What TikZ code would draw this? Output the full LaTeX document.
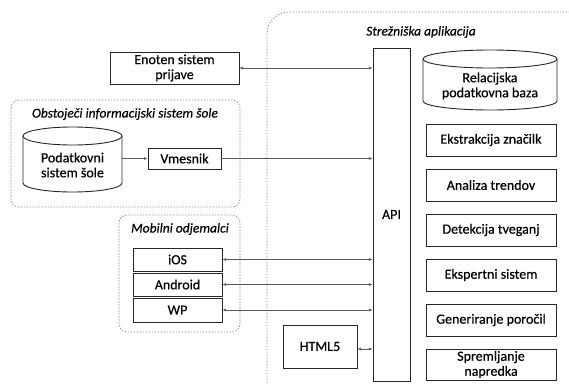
\documentclass[tikz,border=0pt]{standalone}
\usepackage{fontspec}
\setmainfont{Carlito}
\newfontfamily\medfont{Carlito}[FakeBold=0.45]
\usetikzlibrary{arrows.meta}
\begin{document}
\begin{tikzpicture}[x=1pt,y=-1pt,
  box/.style={draw=black!85, line width=0.9pt, fill=white, align=center, inner sep=0pt, font=\medfont\fontsize{14}{15}\selectfont},
  txt/.style={align=center, inner sep=0pt, font=\medfont\fontsize{14}{15}\selectfont},
  cylst/.style={draw=black!85, line width=0.9pt},
  grp/.style={draw=black!45, dash pattern=on 1.5pt off 1.5pt, line width=0.7pt, rounded corners=8pt},
  glabel/.style={inner sep=0pt, font=\medfont\fontsize{13.5}{15}\selectfont\itshape},
  tip/.tip={Latex[length=3.5pt,width=3pt]},
  conn/.style={draw=black!65, line width=0.9pt, -tip},
  bconn/.style={draw=black!65, line width=0.9pt, tip-tip}
]
\useasboundingbox (0,0) rectangle (569,383);

% groups
\draw[grp, rounded corners=22pt] (267,383) -- (267,12) -- (569,12);
\node[glabel] (srvlbl) at (421,32) {Strežniška aplikacija};
\draw[grp] (11,100) rectangle (240,207);
\node[glabel] (oislbl) at (125,114) {Obstoječi informacijski sistem šole};
\draw[grp] (119,215) rectangle (240,332);
\node[glabel] (moblbl) at (180,229) {Mobilni odjemalci};

% API
\node[box, minimum width=37pt, minimum height=333pt] (api) at (391.5,214.5) {API};

% cylinders
\draw[cylst] (423,59) -- (423,101) arc[start angle=180,end angle=360,x radius=67pt,y radius=9pt] -- (557,59);
\draw[cylst] (490,59) ellipse[x radius=67pt,y radius=9pt];
\node[txt, minimum width=134pt, minimum height=60pt] (db) at (490,86) {Relacijska\\podatkovna baza};

\draw[cylst] (23,136) -- (23,183) arc[start angle=180,end angle=360,x radius=49.5pt,y radius=9pt] -- (122,136);
\draw[cylst] (72.5,136) ellipse[x radius=49.5pt,y radius=9pt];
\node[txt, minimum width=99pt, minimum height=40pt] (pod) at (72.5,165) {Podatkovni\\sistem šole};

% boxes
\node[box, minimum width=129pt, minimum height=32pt] (eno) at (174.5,68) {Enoten sistem\\prijave};
\node[box, minimum width=73pt, minimum height=21pt] (vm) at (184.5,158.5) {Vmesnik};
\node[box, minimum width=89pt, minimum height=23pt] (ios) at (177.5,259.5) {iOS};
\node[box, minimum width=89pt, minimum height=23pt] (and) at (177.5,284.5) {Android};
\node[box, minimum width=89pt, minimum height=24pt] (wp) at (177.5,310) {WP};
\node[box, minimum width=74pt, minimum height=43pt] (html) at (320,346.5) {HTML5};

\node[box, minimum width=130pt, minimum height=32pt] (ekst) at (491,140) {Ekstrakcija značilk};
\node[box, minimum width=130pt, minimum height=32pt] (anal) at (491,185) {Analiza trendov};
\node[box, minimum width=130pt, minimum height=32pt] (det) at (491,230) {Detekcija tveganj};
\node[box, minimum width=130pt, minimum height=32pt] (eksp) at (491,275) {Ekspertni sistem};
\node[box, minimum width=130pt, minimum height=32pt] (gen) at (491,320) {Generiranje poročil};
\node[box, minimum width=130pt, minimum height=31pt] (spr) at (491,364.5) {Spremljanje\\napredka};

% connectors
\draw[bconn] (eno.east) -- (eno.east -| api.west);
\draw[conn] (pod.east |- vm.west) -- (vm.west);
\draw[conn] (vm.east) -- (vm.east -| api.west);
\draw[bconn] (ios.east) -- (ios.east -| api.west);
\draw[bconn] (and.east) -- (and.east -| api.west);
\draw[bconn] (wp.east) -- (wp.east -| api.west);
\draw[bconn] ([yshift=-2.5pt]html.east) -- ([yshift=-2.5pt]html.east -| api.west);
\end{tikzpicture}
\end{document}
